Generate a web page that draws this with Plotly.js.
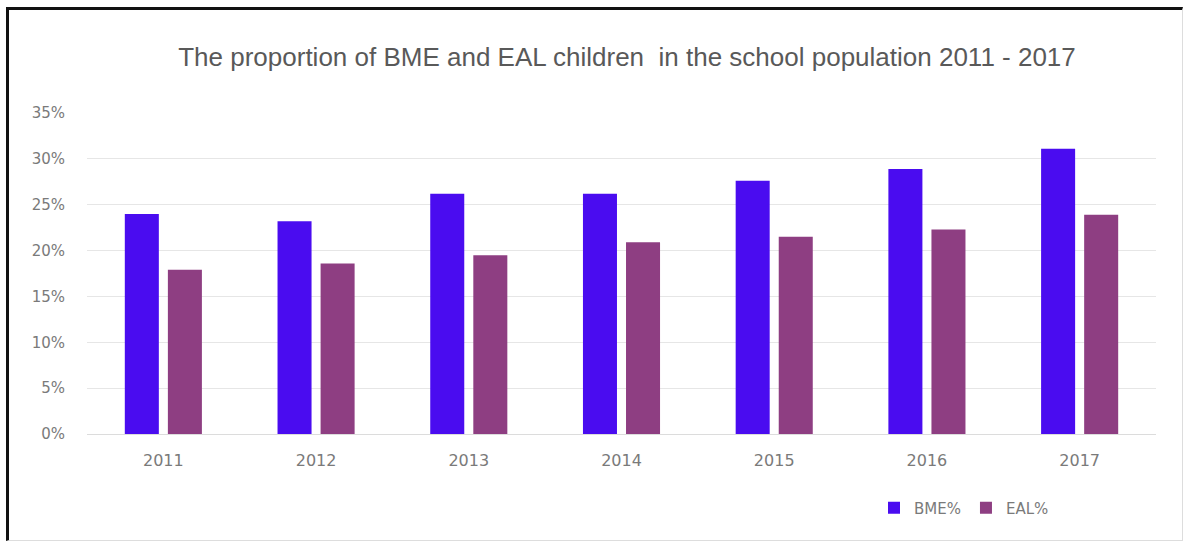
<!DOCTYPE html>
<html>
<head>
<meta charset="utf-8">
<script src="https://cdn.plot.ly/plotly-3.0.1.min.js"></script>
<style>
  html, body { margin: 0; padding: 0; background: #fff; }
  #chart { position: absolute; left: 0; top: 0; width: 1183px; height: 541px; }
  #frame { position: absolute; left: 6px; top: 7px; width: 1173px; height: 530px;
           border-left: 3px solid #111; border-top: 3px solid #111;
           border-right: 1px solid #ddd; border-bottom: 1px solid #ddd;
           pointer-events: none; }
</style>
</head>
<body>
<div id="chart"></div>
<div id="frame"></div>
<script>
const years = ['2011', '2012', '2013', '2014', '2015', '2016', '2017'];
const bmePct = [0.240, 0.232, 0.262, 0.262, 0.276, 0.289, 0.311];
const ealPct = [0.179, 0.186, 0.195, 0.209, 0.215, 0.223, 0.239];
const yTickVals = [0, 0.05, 0.10, 0.15, 0.20, 0.25, 0.30, 0.35];
const yTickText = ['0%', '5%', '10%', '15%', '20%', '25%', '30%', '35%'];
const titleText = 'The proportion of BME and EAL children  in the school population 2011 - 2017';

const font = 'DejaVu Sans, Verdana, sans-serif';

const traces = [
  { type: 'bar', name: 'BME%', x: years, y: bmePct,
    marker: { color: '#4a0cf0' }, hoverinfo: 'x+y' },
  { type: 'bar', name: 'EAL%', x: years, y: ealPct,
    marker: { color: '#8e3e82' }, hoverinfo: 'x+y' }
];

const layout = {
  width: 1183, height: 541,
  margin: { l: 87, r: 27, t: 113, b: 107 },
  paper_bgcolor: '#ffffff', plot_bgcolor: '#ffffff',
  barmode: 'group', bargap: 0.436, bargroupgap: 0.21,
  title: { text: titleText, x: 627 / 1183, xanchor: 'center', xref: 'container',
           y: 1 - 57 / 541, yanchor: 'middle', yref: 'container',
           font: { family: 'Liberation Sans, Arial, sans-serif', size: 26, color: '#595959' } },
  xaxis: { type: 'category', showgrid: false, showline: false, zeroline: false,
           ticks: 'outside', ticklen: 12, tickcolor: 'rgba(0,0,0,0)',
           tickfont: { family: font, size: 16, color: '#7a7a7a' } },
  yaxis: { range: [0, 0.35], tickvals: yTickVals, ticktext: yTickText,
           showgrid: true, gridcolor: '#e6e6e6', gridwidth: 1,
           zeroline: true, zerolinecolor: '#dcdcdc', zerolinewidth: 1, showline: false,
           ticks: 'outside', ticklen: 18, tickcolor: 'rgba(0,0,0,0)',
           tickfont: { family: font, size: 15, color: '#7a7a7a' } },
  showlegend: true,
  legend: { orientation: 'h', xref: 'container', yref: 'container',
            x: 874 / 1183, xanchor: 'left', y: 1 - 508 / 541, yanchor: 'middle',
            itemwidth: 30, font: { family: font, size: 15, color: '#7a7a7a' },
            bgcolor: 'rgba(0,0,0,0)' }
};

Plotly.newPlot('chart', traces, layout, { displayModeBar: false, responsive: false });
</script>
</body>
</html>
